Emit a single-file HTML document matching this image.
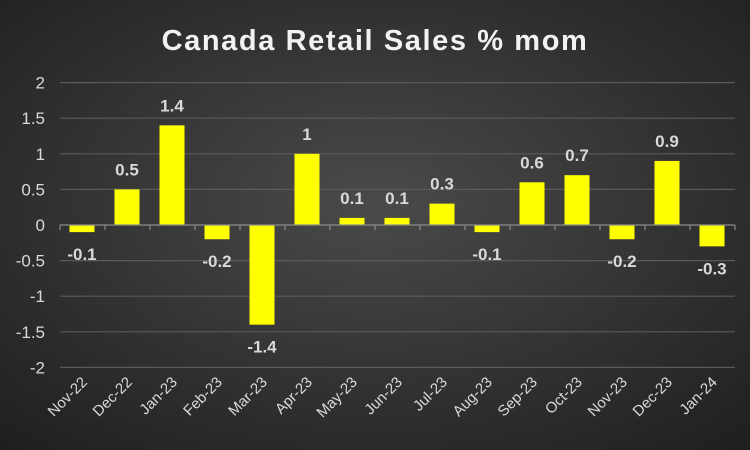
<!DOCTYPE html>
<html><head><meta charset="utf-8"><style>
html,body{margin:0;padding:0;}
body{width:750px;height:450px;overflow:hidden;}
svg{display:block;font-family:"Liberation Sans","DejaVu Sans",sans-serif;}
</style></head><body>
<svg width="750" height="450" viewBox="0 0 750 450">
<defs>
<radialGradient id="bg" cx="50%" cy="45%" r="75%">
<stop offset="0" stop-color="#4a4a4a"/>
<stop offset="1" stop-color="#1e1e1e"/>
</radialGradient>
</defs>
<rect width="750" height="450" fill="url(#bg)"/>
<text x="375" y="50" text-anchor="middle" fill="#f2f2f2" font-size="29" font-weight="bold" letter-spacing="1.6">Canada Retail Sales % mom</text>
<g id="grid" stroke="#5a5a5a" stroke-width="1.2"></g>
<g id="ylab" fill="#d9d9d9" font-size="17" text-anchor="end"></g>
<g id="bars" fill="#ffff00"></g>
<g id="axis" stroke="#8c8c8c" stroke-width="1.2"></g>
<g id="vals" fill="#d9d9d9" font-size="17" font-weight="bold" text-anchor="middle"></g>
<g id="xlab" fill="#d9d9d9" font-size="15" text-anchor="end"></g>
</svg>
<script>
var ns="http://www.w3.org/2000/svg";
function el(p,t,a,txt){var e=document.createElementNS(ns,t);for(var k in a)e.setAttribute(k,a[k]);if(txt!=null)e.textContent=txt;document.getElementById(p).appendChild(e);}
var z=225,u=71.2,x0=60,step=45;
for(var v=-2;v<=2.001;v+=0.5){var y=z-v*u;
 if(Math.abs(v)>0.01) el("grid","line",{x1:x0,x2:735,y1:y,y2:y});
 el("ylab","text",{x:45,y:y+6},(Math.round(v*10)/10).toString());}
var vals=[-0.1,0.5,1.4,-0.2,-1.4,1,0.1,0.1,0.3,-0.1,0.6,0.7,-0.2,0.9,-0.3];
var cats=["Nov-22","Dec-22","Jan-23","Feb-23","Mar-23","Apr-23","May-23","Jun-23","Jul-23","Aug-23","Sep-23","Oct-23","Nov-23","Dec-23","Jan-24"];
el("axis","line",{x1:x0,x2:735,y1:z,y2:z});
for(var i=0;i<=15;i++)el("axis","line",{x1:x0+i*step,x2:x0+i*step,y1:z,y2:z+5});
vals.forEach(function(v,i){var cx=x0+step/2+i*step-0.5,h=Math.abs(v)*u;
 var top=v>=0?z-h:z;
 el("bars","rect",{x:cx-12.5,y:top,width:25,height:h});
 var ty=v>=0?z-h-14:z+h+28;
 el("vals","text",{x:cx,y:ty},v.toString());
 el("xlab","text",{x:cx+6,y:383,transform:"rotate(-45 "+(cx+6)+" 383)"},cats[i]);
});
</script>
</body></html>
